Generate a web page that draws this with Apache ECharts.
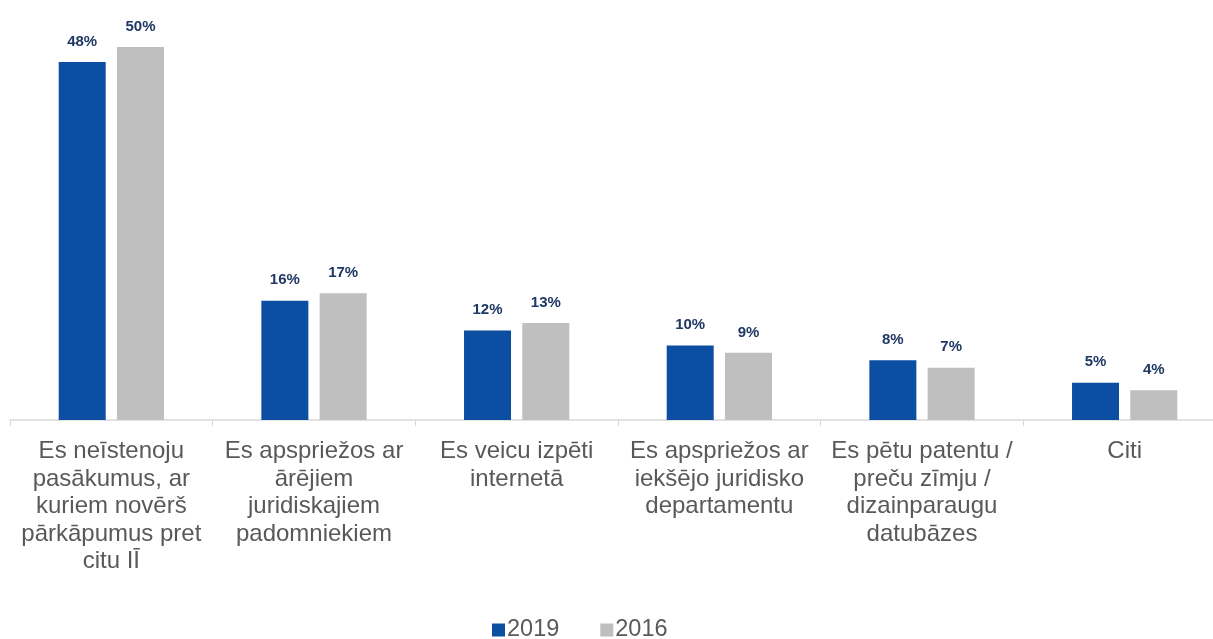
<!DOCTYPE html>
<html><head><meta charset="utf-8">
<script src="https://cdn.jsdelivr.net/npm/echarts@6/dist/echarts.min.js"></script>
<style>html,body{margin:0;padding:0;background:#fff;overflow:hidden}#c{width:1236px;height:639px}</style>
</head><body><div id="c"></div>
<script>
const categories = [
  "Es neīstenoju\npasākumus, ar\nkuriem novērš\npārkāpumus pret\ncitu IĪ",
  "Es apspriežos ar\nārējiem\njuridiskajiem\npadomniekiem",
  "Es veicu izpēti\ninternetā",
  "Es apspriežos ar\niekšējo juridisko\ndepartamentu",
  "Es pētu patentu /\npreču zīmju /\ndizainparaugu\ndatubāzes",
  "Citi"
];
const values2019 = [48, 16, 12, 10, 8, 5];
const values2016 = [50, 17, 13, 9, 7, 4];
const seriesNames = ["2019", "2016"];

const chart = echarts.init(document.getElementById('c'), null, {renderer: 'canvas'});
const labelStyle = {show: true, position: 'top', distance: 13, formatter: '{c}%', fontFamily: 'Liberation Sans, Arial', fontWeight: 'bold', fontSize: 15, color: '#1f3864'};
chart.setOption({
  animation: false,
  textStyle: {fontFamily: 'Liberation Sans, Arial'},
  grid: {left: 10, top: 47, width: 1216, bottom: 219, containLabel: false},
  legend: {
    data: seriesNames, top: 613, left: 487, itemWidth: 13, itemHeight: 13, itemGap: 41,
    icon: 'rect', textStyle: {fontSize: 23.5, color: '#595959', padding: [0, 0, 0, -3]}
  },
  xAxis: {
    type: 'category', data: categories,
    axisLine: {lineStyle: {color: '#d9d9d9', width: 1.5}},
    axisTick: {show: true, length: 6, lineStyle: {color: '#d9d9d9'}},
    axisLabel: {fontSize: 24, color: '#595959', lineHeight: 27.5, margin: 18, interval: 0}
  },
  yAxis: {type: 'value', min: 0, max: 50, show: false, splitLine: {show: false}},
  series: [
    {name: seriesNames[0], type: 'bar', data: values2019, barWidth: 47, barGap: '24%', itemStyle: {color: '#0b4ea2'}, label: labelStyle},
    {name: seriesNames[1], type: 'bar', data: values2016, barWidth: 47, itemStyle: {color: '#bfbfbf'}, label: labelStyle}
  ]
});
</script></body></html>
